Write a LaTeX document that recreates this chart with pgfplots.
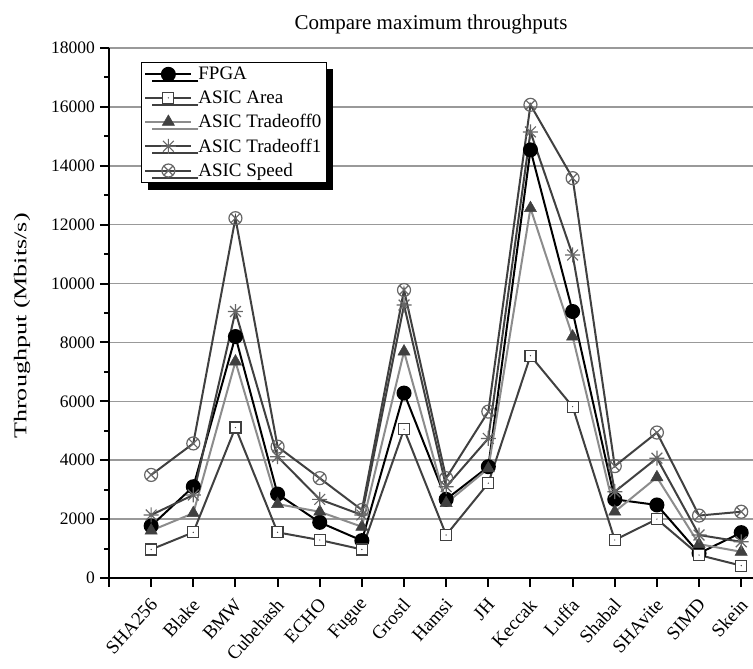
\documentclass[border=0pt]{standalone}
\usepackage{pgfplots}
\pgfplotsset{compat=1.18}
\usepackage{pgfplotstable}
\usepackage{fontspec}
\setmainfont{Liberation Serif}
\usetikzlibrary{calc,shadows}

\definecolor{dk}{HTML}{404040}
\definecolor{lt}{HTML}{8C8C8C}
\definecolor{gridc}{HTML}{999999}

% square with a small dot in the middle
\pgfdeclareplotmark{sqdot}{%
  \pgfpathrectangle{\pgfpoint{-\pgfplotmarksize}{-\pgfplotmarksize}}{\pgfpoint{2\pgfplotmarksize}{2\pgfplotmarksize}}%
  \pgfusepathqfillstroke
  \begin{pgfscope}%
  \pgfsetfillcolor{dk}%
  \pgfpathcircle{\pgfpointorigin}{0.7pt}%
  \pgfusepathqfill
  \end{pgfscope}%
}
% eight-arm asterisk
\pgfdeclareplotmark{star8}{%
  \pgfpathmoveto{\pgfpoint{-\pgfplotmarksize}{0pt}}\pgfpathlineto{\pgfpoint{\pgfplotmarksize}{0pt}}%
  \pgfpathmoveto{\pgfpoint{0pt}{-\pgfplotmarksize}}\pgfpathlineto{\pgfpoint{0pt}{\pgfplotmarksize}}%
  \pgfpathmoveto{\pgfpoint{-0.72\pgfplotmarksize}{-0.72\pgfplotmarksize}}\pgfpathlineto{\pgfpoint{0.72\pgfplotmarksize}{0.72\pgfplotmarksize}}%
  \pgfpathmoveto{\pgfpoint{-0.72\pgfplotmarksize}{0.72\pgfplotmarksize}}\pgfpathlineto{\pgfpoint{0.72\pgfplotmarksize}{-0.72\pgfplotmarksize}}%
  \pgfusepathqstroke
}

% idx FPGA Area T0 T1 Speed
\pgfplotstableread{
x fpga area tzero tone speed
0  1770  970  1610  2140  3500
1  3100  1550 2200  2820  4570
2  8200  5110 7350  9050  12220
3  2850  1550 2510  4120  4460
4  1890  1290 2250  2670  3390
5  1270  970  1740  2140  2310
6  6280  5050 7690  9270  9780
7  2670  1460 2540  3100  3390
8  3780  3220 3720  4740  5650
9  14540 7550 12560 15150 16070
10 9050  5820 8200  10970 13580
11 2670  1290 2250  2930  3800
12 2480  2000 3420  4070  4940
13 840   780  1150  1460  2120
14 1540  420  890   1230  2250
}\thr

\begin{document}
\begin{tikzpicture}
\begin{axis}[
  name=ax,
  scale only axis,
  width=644pt, height=530pt,
  xmin=-1, xmax=14.28,
  ymin=0, ymax=18000,
  axis x line=bottom, axis y line=left,
  axis line style={-, line width=2.2pt, black},
  xtick={-1,0,...,14},
  xticklabels={,SHA256,Blake,BMW,Cubehash,ECHO,Fugue,Grostl,Hamsi,JH,Keccak,Luffa,Shabal,SHAvite,SIMD,Skein},
  ytick={0,2000,...,18000},
  minor y tick num=1,
  tick align=outside,
  major tick length=9pt, minor tick length=4.5pt,
  every tick/.style={black, line width=2pt},
  ymajorgrids,
  major grid style={gridc, line width=1.5pt},
  scaled y ticks=false,
  /pgf/number format/assume math mode=true,
  /pgf/number format/1000 sep={},
  yticklabel style={font=\fontsize{17.5}{20}\selectfont, inner sep=5pt},
  xticklabel style={font=\fontsize{19}{21}\selectfont, xshift=5pt, yshift=-12pt, rotate=48, anchor=east},
  ylabel={\scalebox{1.45}[1]{Throughput (Mbits/s)}},
  every axis y label/.style={at={(rel axis cs:0,0.5)}, xshift=-87pt, yshift=-13pt, rotate=90, anchor=center,
    font=\fontsize{18}{21}\selectfont},
  title={Compare maximum throughputs},
  title style={font=\fontsize{21}{24}\selectfont, yshift=4pt},
  legend cell align=left,
  legend style={at={(rel axis cs:0.0495,0.974)}, anchor=north west,
    font=\fontsize{19}{23}\selectfont, draw=black, line width=1pt, fill=white,
    inner sep=3pt, row sep=5.5pt, column sep=4pt,
    drop shadow={shadow xshift=7pt, shadow yshift=-7pt, fill=black, opacity=1}},
  legend image code/.code={%
    \draw[mark repeat=2, mark phase=2] plot coordinates {(0pt,0pt) (23pt,0pt) (46pt,0pt)};},
  every axis plot/.append style={line width=2pt},
]
\addplot[black, mark=*, mark size=6.5pt, mark options={fill=black, draw=black}] table[x=x, y=fpga] {\thr};
\addplot[dk, mark=sqdot, mark size=5.5pt, mark options={fill=white, draw=dk, line width=1.2pt}] table[x=x, y=area] {\thr};
\addplot[lt, mark=triangle*, mark size=7pt, mark options={fill=dk, draw=dk, line width=0.5pt}] table[x=x, y=tzero] {\thr};
\addplot[dk, mark=star8, mark size=7.5pt, mark options={draw=dk!80, line width=1.2pt}] table[x=x, y=tone] {\thr};
\addplot[dk, mark=otimes, mark size=6.5pt, mark options={draw=dk!80, line width=1.2pt, fill=none}] table[x=x, y=speed] {\thr};
\legend{FPGA, ASIC Area, ASIC Tradeoff0, ASIC Tradeoff1, ASIC Speed}
\end{axis}
\pgfresetboundingbox
\path[use as bounding box] ($(ax.south west)+(-109pt,-91pt)$) rectangle ($(ax.north east)+(0pt,48pt)$);
\end{tikzpicture}
\end{document}
